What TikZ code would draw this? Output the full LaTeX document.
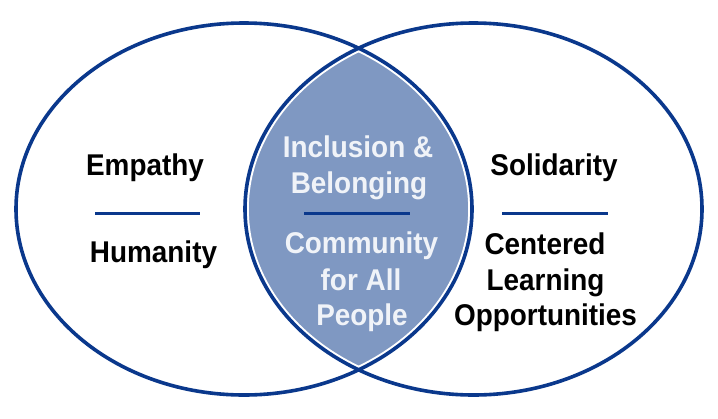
\documentclass[tikz,border=0pt]{standalone}
\usepackage{fontspec}
\setmainfont{Liberation Sans}[FakeStretch=0.93]
\definecolor{ringblue}{RGB}{10,56,140}
\definecolor{lensfill}{RGB}{127,152,194}
\definecolor{lenstext}{RGB}{240,243,248}
\begin{document}
\begin{tikzpicture}[x=1pt,y=-1pt,
  ring/.style={draw=ringblue,line width=3.6pt},
  halo/.style={draw=white,line width=7.6pt},
  divider/.style={draw=ringblue,line width=3pt},
  word/.style={anchor=base,inner sep=0pt,font=\fontsize{30}{36}\selectfont\bfseries,text=black},
  lensword/.style={word,text=lenstext}]
\useasboundingbox[fill=white] (0,0) rectangle (718,418);
\def\leftring{(244,209) ellipse [x radius=228pt, y radius=186pt]}
\def\rightring{(473.5,209) ellipse [x radius=228.5pt, y radius=186pt]}
% lens
\begin{scope}
  \clip \leftring;
  \fill[lensfill] \rightring;
  \begin{scope}
    \clip \rightring;
    \draw[halo] \leftring;
    \draw[halo] \rightring;
  \end{scope}
\end{scope}
\draw[ring] \leftring;
\draw[ring] \rightring;
% dividers
\coordinate (l1) at (95,213);  \coordinate (l2) at (200,213);
\coordinate (m1) at (304,213); \coordinate (m2) at (410,213);
\coordinate (r1) at (502,213); \coordinate (r2) at (608,213);
\draw[divider] (l1) -- (l2);
\draw[divider] (m1) -- (m2);
\draw[divider] (r1) -- (r2);
% left texts
\node[word] (empathy) at (145,175) {Empathy};
\node[word] (humanity) at (153.5,262) {Humanity};
% right texts
\node[word] (solidarity) at (554,175) {Solidarity};
\node[word] (centered) at (545,254) {Centered};
\node[word] (learning) at (545.5,290) {Learning};
\node[word] (opps) at (545.5,325) {Opportunities};
% lens texts
\node[lensword] (inclusion) at (358,157) {Inclusion \&};
\node[lensword] (belonging) at (359,193) {Belonging};
\node[lensword] (community) at (361.5,253) {Community};
\node[lensword] (forall) at (361,290) {for All};
\node[lensword] (people) at (362,325) {People};
\end{tikzpicture}
\end{document}
